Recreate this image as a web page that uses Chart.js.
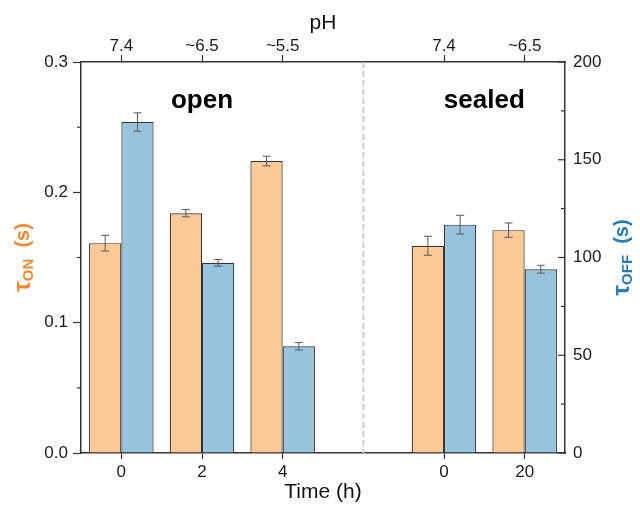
<!DOCTYPE html>
<html>
<head>
<meta charset="utf-8">
<script src="https://cdn.jsdelivr.net/npm/chart.js@4"></script>
<style>
  html, body { margin: 0; padding: 0; background: #fff; }
  canvas { display: block; }
</style>
</head>
<body>
<canvas id="c" width="640" height="505"></canvas>
<script>
// ---- data ----
const timeLabels = ['0', '2', '4', '', '0', '20'];
const phLabels   = ['7.4', '~6.5', '~5.5', '', '7.4', '~6.5'];
const tauOn      = [0.161, 0.184, 0.224, null, 0.159, 0.171];
const tauOnErr   = [0.006, 0.0028, 0.0037, null, 0.0073, 0.0055];
const tauOff     = [169.3, 97.3, 54.6, null, 116.8, 94.0];
const tauOffErr  = [4.7, 1.7, 1.9, null, 4.8, 2.0];
const groupNames = ['open', 'sealed'];

const FONT = "'Liberation Sans', Arial, Helvetica, sans-serif";
const AXIS = '#333333';
const ORANGE_TXT = '#EE8A33';
const BLUE_TXT = '#2A7BB8';

Chart.defaults.font.family = FONT;
Chart.defaults.font.size = 17;
Chart.defaults.color = '#1a1a1a';

const errorBars = {
  id: 'errorBars',
  afterDatasetsDraw(chart) {
    const ctx = chart.ctx;
    const sets = [[0, tauOn, tauOnErr, 'y'], [1, tauOff, tauOffErr, 'y2']];
    ctx.save();
    ctx.strokeStyle = '#5a5a5a';
    ctx.lineWidth = 1;
    sets.forEach(([di, vals, errs, axis]) => {
      const meta = chart.getDatasetMeta(di);
      const ys = chart.scales[axis];
      vals.forEach((v, i) => {
        if (v == null) return;
        const x = meta.data[i].x;
        const yt = ys.getPixelForValue(v + errs[i]);
        const yb = ys.getPixelForValue(v - errs[i]);
        ctx.beginPath();
        ctx.moveTo(x, yt); ctx.lineTo(x, yb);
        ctx.moveTo(x - 4, yt); ctx.lineTo(x + 4, yt);
        ctx.moveTo(x - 4, yb); ctx.lineTo(x + 4, yb);
        ctx.stroke();
      });
    });
    ctx.restore();
  }
};

const decorations = {
  id: 'decorations',
  beforeDatasetsDraw(chart) {
    const {ctx, chartArea} = chart;
    const xs = chart.scales.x;
    const gx = xs.getPixelForValue(3);
    ctx.save();
    ctx.strokeStyle = '#cfcfcf';
    ctx.lineWidth = 2;
    ctx.setLineDash([6, 3]);
    ctx.beginPath();
    ctx.moveTo(gx, chartArea.top);
    ctx.lineTo(gx, chartArea.bottom);
    ctx.stroke();
    ctx.restore();
  },
  afterDraw(chart) {
    const {ctx, chartArea} = chart;
    const xs = chart.scales.x;
    ctx.save();
    // minor ticks
    ctx.strokeStyle = AXIS;
    ctx.lineWidth = 1.2;
    const y = chart.scales.y, y2 = chart.scales.y2;
    y.ticks.forEach(t => {
      const major = Math.round(t.value * 100) % 10 === 0;
      if (major) return;
      const py = y.getPixelForValue(t.value);
      ctx.beginPath(); ctx.moveTo(chartArea.left - 4, py); ctx.lineTo(chartArea.left, py); ctx.stroke();
    });
    y2.ticks.forEach(t => {
      const major = Math.round(t.value) % 50 === 0;
      const py = y2.getPixelForValue(t.value);
      const len = major ? 7 : 4;
      ctx.beginPath(); ctx.moveTo(chartArea.right - len, py); ctx.lineTo(chartArea.right, py); ctx.stroke();
    });

    // group labels
    ctx.fillStyle = '#000';
    ctx.font = "bold 26px " + FONT;
    ctx.textAlign = 'center';
    ctx.textBaseline = 'alphabetic';
    const ty = chartArea.top + 46;
    ctx.fillText(groupNames[0], xs.getPixelForValue(1), ty);
    ctx.fillText(groupNames[1], (xs.getPixelForValue(4) + xs.getPixelForValue(5)) / 2, ty);

    // rotated y axis titles with subscripts
    const cy = (chartArea.top + chartArea.bottom) / 2;
    drawTitle(ctx, 23, cy, 'ON', ORANGE_TXT);
    drawTitle(ctx, 622, cy, 'OFF', BLUE_TXT);
    ctx.restore();
  }
};

function drawTitle(ctx, cx, cy, sub, color) {
  ctx.save();
  ctx.translate(cx, cy);
  ctx.rotate(-Math.PI / 2);
  ctx.fillStyle = color;
  ctx.textBaseline = 'middle';
  ctx.textAlign = 'left';
  const fTau = "bold 24px " + FONT;
  const fSub = "bold 15px " + FONT;
  const fUnit = "bold 20px " + FONT;
  ctx.font = fTau; const wT = ctx.measureText('τ').width;
  ctx.font = fSub; const wS = ctx.measureText(sub).width;
  ctx.font = fUnit; const wU = ctx.measureText('  (s)').width;
  const total = wT + wS + wU;
  let x = -total / 2;
  ctx.font = fTau; ctx.fillText('τ', x, 0); x += wT;
  ctx.font = fSub; ctx.fillText(sub, x, 6); x += wS;
  ctx.font = fUnit; ctx.fillText('  (s)', x, 0);
  ctx.restore();
}

new Chart(document.getElementById('c'), {
  type: 'bar',
  data: {
    labels: timeLabels,
    datasets: [
      {
        label: 'τON',
        data: tauOn,
        yAxisID: 'y',
        backgroundColor: '#FAC996',
        borderColor: '#333333',
        borderWidth: 1.2,
        barPercentage: 1.0,
        categoryPercentage: 0.8
      },
      {
        label: 'τOFF',
        data: tauOff,
        yAxisID: 'y2',
        backgroundColor: '#97C3DC',
        borderColor: '#333333',
        borderWidth: 1.2,
        barPercentage: 1.0,
        categoryPercentage: 0.8
      }
    ]
  },
  options: {
    responsive: false,
    devicePixelRatio: 1,
    animation: false,
    layout: { padding: 0 },
    plugins: { legend: { display: false }, tooltip: { enabled: false } },
    scales: {
      x: {
        type: 'category',
        position: 'bottom',
        offset: true,
        grid: {
          offset: false,
          drawOnChartArea: false, drawTicks: true, tickLength: 6,
          tickColor: c => c.index === 3 ? 'rgba(0,0,0,0)' : AXIS, tickWidth: 1.2
        },
        border: { display: true, color: AXIS, width: 1.5 },
        ticks: { padding: 3, maxRotation: 0, autoSkip: false, font: { size: 17 } },
        title: { display: true, text: 'Time (h)', font: { size: 21 }, padding: { top: 0, bottom: 0 }, color: '#111' },
        afterFit: s => { s.height = 52; }
      },
      xTop: {
        type: 'category',
        position: 'top',
        offset: true,
        labels: phLabels,
        grid: {
          offset: false,
          drawOnChartArea: false, drawTicks: true, tickLength: 7,
          tickColor: c => c.index === 3 ? 'rgba(0,0,0,0)' : AXIS, tickWidth: 1.2
        },
        border: { display: true, color: AXIS, width: 1.5 },
        ticks: { padding: -2, maxRotation: 0, autoSkip: false, font: { size: 17 } },
        title: { display: true, text: 'pH', font: { size: 21 }, padding: { top: 11, bottom: 0 }, color: '#111' },
        afterFit: s => { s.height = 62; }
      },
      y: {
        type: 'linear',
        position: 'left',
        min: 0, max: 0.3,
        grid: {
          drawOnChartArea: false, drawTicks: true, tickLength: 8, tickWidth: 1.2,
          tickColor: c => (c.tick && Math.round(c.tick.value * 100) % 10 === 0) ? AXIS : 'rgba(0,0,0,0)'
        },
        border: { display: true, color: AXIS, width: 1.5 },
        ticks: {
          stepSize: 0.05, padding: 5, font: { size: 17 },
          callback: v => Math.round(v * 100) % 10 === 0 ? v.toFixed(1) : ''
        },
        afterFit: s => { s.width = 81; }
      },
      y2: {
        type: 'linear',
        position: 'right',
        min: 0, max: 200,
        grid: { drawOnChartArea: false, drawTicks: false },
        border: { display: true, color: AXIS, width: 1.5 },
        ticks: {
          stepSize: 25, padding: 8, font: { size: 17 },
          callback: v => Math.round(v) % 50 === 0 ? String(v) : ''
        },
        afterFit: s => { s.width = 75; }
      }
    }
  },
  plugins: [decorations, errorBars]
});
</script>
</body>
</html>
